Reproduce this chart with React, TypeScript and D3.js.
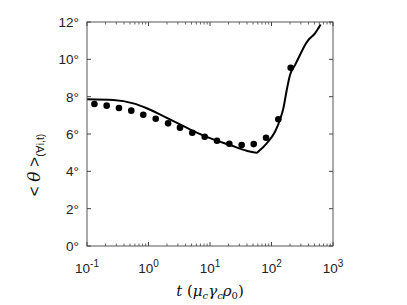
import * as d3 from "d3";

// measured dots (t, mean angle in degrees)
const dotT = [0.132, 0.209, 0.331, 0.525, 0.822, 1.31, 2.08, 3.25, 5.15, 8.2, 13.0, 20.6, 32.7, 51.4, 81.5, 129, 205];
const dotTheta = [7.61, 7.52, 7.39, 7.25, 7.03, 6.82, 6.57, 6.34, 6.07, 5.85, 5.64, 5.48, 5.41, 5.46, 5.8, 6.79, 9.55];

// simulation curve
const lineT = [0.101, 0.268, 0.566, 0.935, 1.74, 3.25, 6.08, 11.3, 21.1, 39.5, 57.4, 65, 83.6, 114, 137, 156, 177, 200, 241, 290, 351, 396, 509, 577, 631];
const lineTheta = [7.86, 7.82, 7.64, 7.38, 6.96, 6.52, 6.07, 5.71, 5.41, 5.1, 5.0, 5.14, 5.5, 6.12, 6.75, 7.38, 8.36, 9.16, 9.69, 10.23, 10.77, 11.03, 11.39, 11.66, 11.87];

const yTicks = [0, 2, 4, 6, 8, 10, 12];
const xDecades = [-1, 0, 1, 2, 3];

const WIDTH = 407;
const HEIGHT = 305;
const LEFT = 87;
const RIGHT = 333;
const TOP = 22;
const BOTTOM = 246;

export default function App() {
  const x = d3.scaleLog().domain([0.1, 1000]).range([LEFT, RIGHT]);
  const y = d3.scaleLinear().domain([0, 12]).range([BOTTOM, TOP]);
  const line = d3
    .line<number>()
    .x((_, i) => x(lineT[i]))
    .y((v) => y(v))
    .curve(d3.curveMonotoneX);

  const minor: number[] = [];
  xDecades.slice(0, -1).forEach((e) => {
    for (let m = 2; m <= 9; m++) minor.push(m * Math.pow(10, e));
  });

  const font = "Liberation Sans, Arial, sans-serif";
  const axisStroke = "#444";

  return (
    <svg width={WIDTH} height={HEIGHT} style={{ position: "absolute", left: 0, top: 0 }}>
      <rect width={WIDTH} height={HEIGHT} fill="#fff" />
      <rect x={LEFT} y={TOP} width={RIGHT - LEFT} height={BOTTOM - TOP} fill="none" stroke={axisStroke} strokeWidth={0.9} />
      {yTicks.map((t) => (
        <g key={t}>
          <line x1={LEFT} x2={LEFT + 4} y1={y(t)} y2={y(t)} stroke={axisStroke} />
          <line x1={RIGHT} x2={RIGHT - 4} y1={y(t)} y2={y(t)} stroke={axisStroke} />
          <text x={LEFT - 8} y={y(t) + 5} textAnchor="end" fontFamily={font} fontSize={13.5} fill="#222">
            {t}°
          </text>
        </g>
      ))}
      {xDecades.map((e) => {
        const px = x(Math.pow(10, e));
        return (
          <g key={e}>
            <line x1={px} x2={px} y1={BOTTOM} y2={BOTTOM - 4} stroke={axisStroke} />
            <line x1={px} x2={px} y1={TOP} y2={TOP + 4} stroke={axisStroke} />
            <text x={px} y={273} textAnchor="middle" fontFamily={font} fontSize={13.5} fill="#222">
              10
              <tspan dy={-6} fontSize={10}>
                {e}
              </tspan>
            </text>
          </g>
        );
      })}
      {minor.map((m) => (
        <g key={m}>
          <line x1={x(m)} x2={x(m)} y1={BOTTOM} y2={BOTTOM - 2.5} stroke={axisStroke} strokeWidth={0.8} />
          <line x1={x(m)} x2={x(m)} y1={TOP} y2={TOP + 2.5} stroke={axisStroke} strokeWidth={0.8} />
        </g>
      ))}
      <path d={line(lineTheta) ?? undefined} fill="none" stroke="#000" strokeWidth={2} strokeLinejoin="round" />
      {dotTheta.map((v, i) => (
        <circle key={i} cx={x(dotT[i])} cy={y(v)} r={3.3} fill="#000" />
      ))}
      <text x={210} y={296} textAnchor="middle" fontFamily="DejaVu Serif, serif" fontSize={15} fill="#111">
        <tspan fontStyle="italic">t</tspan> (<tspan fontStyle="italic">μ</tspan>
        <tspan fontSize={10} dy={3} fontStyle="italic">c</tspan>
        <tspan dy={-3} fontStyle="italic">γ</tspan>
        <tspan fontSize={10} dy={3} fontStyle="italic">c</tspan>
        <tspan dy={-3} fontStyle="italic">ρ</tspan>
        <tspan fontSize={10} dy={3}>0</tspan>
        <tspan dy={-3}>)</tspan>
      </text>
      <text transform="translate(40 165) rotate(-90)" textAnchor="middle" fontFamily={font} fontSize={17} fill="#111">
        {"< "}
        <tspan fontFamily="DejaVu Serif, serif" fontStyle="italic">θ</tspan>
        {" >"}
        <tspan fontSize={10.5} dy={4}>(∀i,t)</tspan>
      </text>
    </svg>
  );
}
